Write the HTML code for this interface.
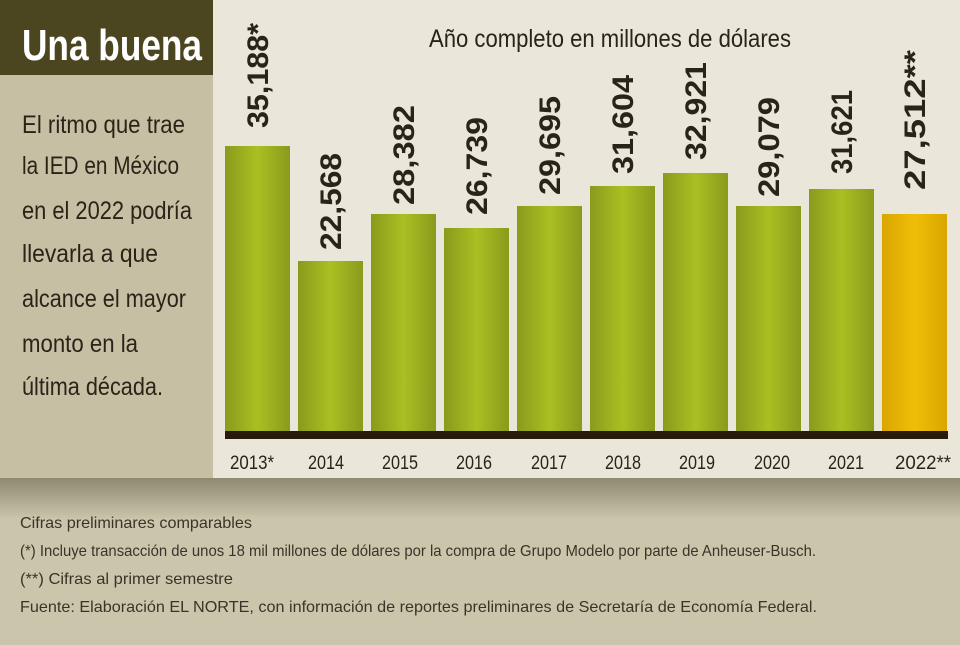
<!DOCTYPE html>
<html><head><meta charset="utf-8"><style>
html,body{margin:0;padding:0;}
body{width:960px;height:640px;overflow:hidden;background:#c9c3aa;font-family:"Liberation Sans",sans-serif;}
</style></head><body>
<svg width="960" height="640" viewBox="0 0 960 640" xmlns="http://www.w3.org/2000/svg" font-family="Liberation Sans, sans-serif">
<defs>
<linearGradient id="g" x1="0" x2="1" y1="0" y2="0">
<stop offset="0" stop-color="#8a9a1c"/><stop offset="0.5" stop-color="#aabf22"/><stop offset="1" stop-color="#8a9a1c"/>
</linearGradient>
<linearGradient id="y" x1="0" x2="1" y1="0" y2="0">
<stop offset="0" stop-color="#d9a600"/><stop offset="0.5" stop-color="#f0be08"/><stop offset="1" stop-color="#d9a600"/>
</linearGradient>
<linearGradient id="sh" x1="0" x2="0" y1="0" y2="1">
<stop offset="0" stop-color="#8f8970"/><stop offset="1" stop-color="#c9c3aa"/>
</linearGradient>
</defs>
<rect x="0" y="0" width="960" height="640" fill="#cbc5ac"/>
<rect x="0" y="478" width="960" height="40" fill="url(#sh)"/>
<rect x="0" y="0" width="213" height="478" fill="#c6bfa4"/>
<rect x="0" y="0" width="213" height="75" fill="#4b4620"/>
<text x="22" y="60" font-size="44" font-weight="bold" fill="#fff" textLength="180" lengthAdjust="spacingAndGlyphs">Una buena</text>
<g font-size="25" fill="#2a2418">
<text x="22" y="133" textLength="163" lengthAdjust="spacingAndGlyphs">El ritmo que trae</text>
<text x="22" y="174" textLength="157" lengthAdjust="spacingAndGlyphs">la IED en México</text>
<text x="22" y="219" textLength="170" lengthAdjust="spacingAndGlyphs">en el 2022 podría</text>
<text x="22" y="262" textLength="136" lengthAdjust="spacingAndGlyphs">llevarla a que</text>
<text x="22" y="307" textLength="164" lengthAdjust="spacingAndGlyphs">alcance el mayor</text>
<text x="22" y="352" textLength="116" lengthAdjust="spacingAndGlyphs">monto en la</text>
<text x="22" y="395" textLength="141" lengthAdjust="spacingAndGlyphs">última década.</text>
</g>
<rect x="213" y="0" width="747" height="478" fill="#ebe6da"/>
<text x="610" y="47" font-size="25" fill="#2a2418" text-anchor="middle" textLength="362" lengthAdjust="spacingAndGlyphs">Año completo en millones de dólares</text>
<g fill="url(#g)">
<rect x="225" y="146" width="65" height="288"/>
<rect x="298" y="261" width="65" height="173"/>
<rect x="371" y="214" width="65" height="220"/>
<rect x="444" y="228" width="65" height="206"/>
<rect x="517" y="206" width="65" height="228"/>
<rect x="590" y="186" width="65" height="248"/>
<rect x="663" y="173" width="65" height="261"/>
<rect x="736" y="206" width="65" height="228"/>
<rect x="809" y="189" width="65" height="245"/>
</g>
<rect x="882" y="214" width="65" height="220" fill="url(#y)"/>
<rect x="225" y="431" width="723" height="8" fill="#2a1a0c"/>
<g font-size="30" font-weight="bold" fill="#2a2418">
<text transform="translate(268,128) rotate(-90)" textLength="105" lengthAdjust="spacingAndGlyphs">35,188*</text>
<text transform="translate(341,250) rotate(-90)" textLength="97" lengthAdjust="spacingAndGlyphs">22,568</text>
<text transform="translate(414,205) rotate(-90)" textLength="100" lengthAdjust="spacingAndGlyphs">28,382</text>
<text transform="translate(487,215) rotate(-90)" textLength="98" lengthAdjust="spacingAndGlyphs">26,739</text>
<text transform="translate(560,195) rotate(-90)" textLength="99" lengthAdjust="spacingAndGlyphs">29,695</text>
<text transform="translate(633,174) rotate(-90)" textLength="99" lengthAdjust="spacingAndGlyphs">31,604</text>
<text transform="translate(706,160) rotate(-90)" textLength="98" lengthAdjust="spacingAndGlyphs">32,921</text>
<text transform="translate(779,197) rotate(-90)" textLength="100" lengthAdjust="spacingAndGlyphs">29,079</text>
<text transform="translate(852,174) rotate(-90)" textLength="84" lengthAdjust="spacingAndGlyphs">31,621</text>
<text transform="translate(925,190) rotate(-90)" textLength="140" lengthAdjust="spacingAndGlyphs">27,512**</text>
</g>
<g font-size="19" fill="#2a2418" text-anchor="middle">
<text x="252" y="469" textLength="44" lengthAdjust="spacingAndGlyphs">2013*</text>
<text x="326" y="469" textLength="36" lengthAdjust="spacingAndGlyphs">2014</text>
<text x="400" y="469" textLength="36" lengthAdjust="spacingAndGlyphs">2015</text>
<text x="474" y="469" textLength="36" lengthAdjust="spacingAndGlyphs">2016</text>
<text x="549" y="469" textLength="36" lengthAdjust="spacingAndGlyphs">2017</text>
<text x="623" y="469" textLength="36" lengthAdjust="spacingAndGlyphs">2018</text>
<text x="697" y="469" textLength="36" lengthAdjust="spacingAndGlyphs">2019</text>
<text x="772" y="469" textLength="36" lengthAdjust="spacingAndGlyphs">2020</text>
<text x="846" y="469" textLength="36" lengthAdjust="spacingAndGlyphs">2021</text>
<text x="923" y="469" textLength="56" lengthAdjust="spacingAndGlyphs">2022**</text>
</g>
<g font-size="16" fill="#3a3428">
<text x="20" y="528" textLength="232" lengthAdjust="spacingAndGlyphs">Cifras preliminares comparables</text>
<text x="20" y="556" textLength="796" lengthAdjust="spacingAndGlyphs">(*) Incluye transacción de unos 18 mil millones de dólares por la compra de Grupo Modelo por parte de Anheuser-Busch.</text>
<text x="20" y="584" textLength="213" lengthAdjust="spacingAndGlyphs">(**) Cifras al primer semestre</text>
<text x="20" y="612" textLength="797" lengthAdjust="spacingAndGlyphs">Fuente: Elaboración EL NORTE, con información de reportes preliminares de Secretaría de Economía Federal.</text>
</g>
</svg>
</body></html>
